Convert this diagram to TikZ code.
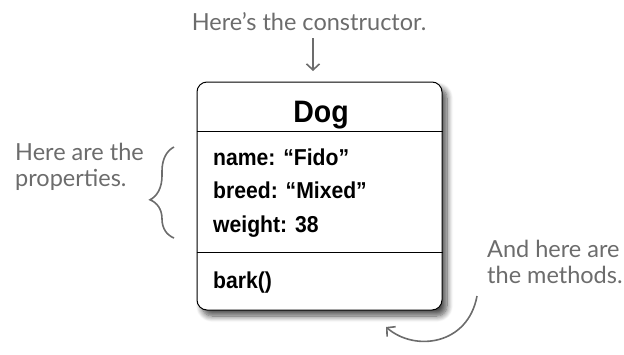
\documentclass[tikz,border=0pt]{standalone}
\usepackage{fontspec}
\setmainfont{Liberation Sans}
\newfontfamily\boxfont[FakeStretch=0.92]{Liberation Sans}
\newfontfamily\handfont{Lato}
\usepackage{xcolor}
\usetikzlibrary{arrows.meta, positioning, decorations.pathreplacing, shadows.blur}
\definecolor{annot}{RGB}{108,108,108}

\begin{document}
\begin{tikzpicture}[
    x=1pt, y=-1pt,
    note/.style={font=\handfont\fontsize{23.5}{26}\selectfont, text=annot,
                 align=left, inner sep=0pt},
    field/.style={font=\boxfont\bfseries\fontsize{23}{26}\selectfont,
                  anchor=base west, inner sep=0pt},
    arr/.style={-{Straight Barb[length=6pt, width=13pt]}, annot, line width=1.6pt},
]
\useasboundingbox (0,0) rectangle (624,354);

% class box
\node[draw, line width=1pt, rounded corners=10pt, fill=white,
      minimum width=245pt, minimum height=228pt,
      blur shadow={shadow xshift=5pt, shadow yshift=-6pt, shadow blur steps=10,
                   shadow blur radius=6pt, shadow opacity=70}]
    (dog) at (319.5,196) {};
\draw[line width=0.8pt] (dog.west |- 0,131) -- (dog.east |- 0,131);
\draw[line width=0.8pt] (dog.west |- 0,252) -- (dog.east |- 0,252);

\node[font=\boxfont\bfseries\fontsize{31}{34}\selectfont, anchor=base, inner sep=0pt]
    (title) at (321,122) {Dog};
\node[field] (name)   at (213,165) {name: “Fido”};
\node[field] (breed)  at (213,198) {breed: “Mixed”};
\node[field] (weight) at (213,232) {weight: 38};
\node[field] (bark)   at (213,288) {bark()};

% annotations
\node[note, anchor=base] (ctor) at (309,30) {Here’s the constructor.};
\node[note, anchor=base west] (props) at (15,186) {Here are the\\properties.};
\node[note, anchor=base west] (meths) at (487,283) {And here are\\the methods.};

\coordinate (ctortip) at (313,71);
\draw[arr] (313,38) -- (ctortip);

\draw[annot, line width=1.6pt, decorate,
      decoration={brace, amplitude=24pt, aspect=0.42}]
    (174,238) -- (174,147);

\coordinate (methstart) at (477,296);
\coordinate (methtip) at (386,327);
\draw[arr] (methstart) .. controls (468,345) and (415,352) .. (methtip);
\end{tikzpicture}
\end{document}
